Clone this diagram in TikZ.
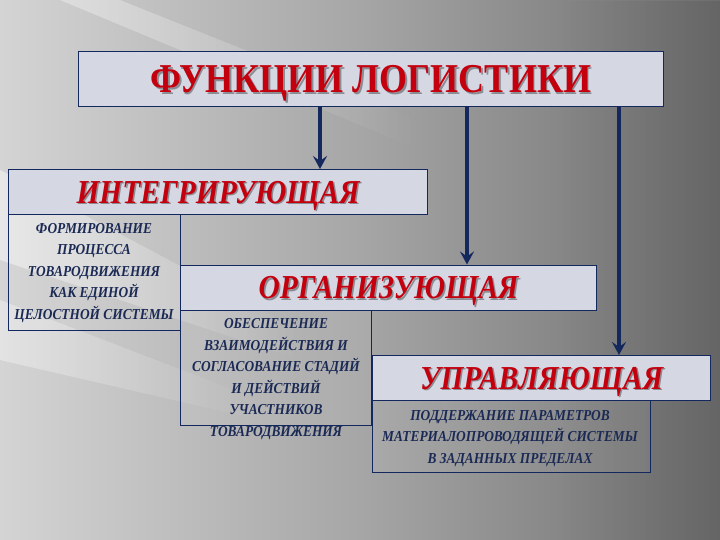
\documentclass[tikz,border=0pt]{standalone}
\usepackage{fontspec}
\setmainfont{Liberation Serif}
\newfontfamily\condfont[FakeStretch=0.88]{Liberation Serif}
\usetikzlibrary{arrows.meta,fadings}
\definecolor{navy}{HTML}{14285E}
\definecolor{hred}{HTML}{C4000E}
\definecolor{hfill}{HTML}{D5D8E3}
\definecolor{subtxt}{HTML}{1B2A55}
\definecolor{bgl}{HTML}{D4D4D4}
\definecolor{bgm}{HTML}{A6A6A6}
\definecolor{bgr}{HTML}{6E6E6E}
\begin{document}
\begin{tikzpicture}[x=1pt,y=-1pt,
  head/.style={draw=navy, line width=1.1pt, fill=hfill, anchor=north west, inner sep=0pt},
  sub/.style={draw=navy, line width=0.9pt, fill=white, fill opacity=0.06, anchor=north west, inner sep=0pt},
  titletxt/.style={text=hred, text depth=0pt, font=\condfont\bfseries\fontsize{41}{41}\selectfont},
  headtxt/.style={text=hred, text depth=0pt, font=\condfont\bfseries\itshape\fontsize{33.5}{33.5}\selectfont},
  shadowtxt/.style={text=black, text opacity=0.35},
  subtxt/.style={text=subtxt, align=center, inner sep=0pt, font=\condfont\bfseries\itshape\fontsize{15.2}{21.5}\selectfont},
  arr/.style={draw=navy, line width=3.4pt, -{Stealth[length=13pt,width=14pt,inset=5pt]}}]
% background
\useasboundingbox (0,0) rectangle (720,540);
\shade[left color=bgl, right color=bgr, middle color=bgm] (0,0) rectangle (720,540);
\fill[white, opacity=0.45, path fading=east] (0,170) -- (300,330) -- (300,360) -- (0,260) -- cycle;
\fill[white, opacity=0.35, path fading=east] (0,300) -- (260,400) -- (260,420) -- (0,360) -- cycle;
\fill[white, opacity=0.35, path fading=east] (120,0) -- (420,120) -- (420,150) -- (60,0) -- cycle;
\fill[black, opacity=0.08, path fading=west] (560,0) rectangle (720,540);
% sub boxes
\node[sub, minimum width=172, minimum height=116] (intsub) at (8,214) {};
\node[sub, minimum width=191, minimum height=115] (orgsub) at (180,310) {};
\node[sub, minimum width=278, minimum height=72] (uprsub) at (372,400) {};
% header boxes
\node[head, minimum width=585, minimum height=55] (title) at (78,51) {};
\node[titletxt, shadowtxt] (titles) at ([shift={(1.5,1.5)}]title.center) {ФУНКЦИИ ЛОГИСТИКИ};
\node[titletxt] (titlet) at (title.center) {ФУНКЦИИ ЛОГИСТИКИ};
\node[head, minimum width=419, minimum height=45] (int) at (8,169) {};
\node[headtxt, shadowtxt] (ints) at ([shift={(1.5,1.5)}]int.center) {ИНТЕГРИРУЮЩАЯ};
\node[headtxt] (intt) at (int.center) {ИНТЕГРИРУЮЩАЯ};
\node[head, minimum width=416, minimum height=45.5] (org) at (180,264.5) {};
\node[headtxt, shadowtxt] (orgs) at ([shift={(1.5,1.5)}]org.center) {ОРГАНИЗУЮЩАЯ};
\node[headtxt] (orgt) at (org.center) {ОРГАНИЗУЮЩАЯ};
\node[head, minimum width=338, minimum height=45] (upr) at (372,355) {};
\node[headtxt, shadowtxt] (uprs) at ([shift={(1.5,1.5)}]upr.center) {УПРАВЛЯЮЩАЯ};
\node[headtxt] (uprt) at (upr.center) {УПРАВЛЯЮЩАЯ};
% sub texts
\node[subtxt] (intst) at (94,273) {ФОРМИРОВАНИЕ\\ПРОЦЕССА\\ТОВАРОДВИЖЕНИЯ\\КАК ЕДИНОЙ\\ЦЕЛОСТНОЙ СИСТЕМЫ};
\node[subtxt] (orgst) at (276,379) {ОБЕСПЕЧЕНИЕ\\ВЗАИМОДЕЙСТВИЯ И\\СОГЛАСОВАНИЕ СТАДИЙ\\И ДЕЙСТВИЙ\\УЧАСТНИКОВ\\ТОВАРОДВИЖЕНИЯ};
\node[subtxt] (uprst) at (510,438.5) {ПОДДЕРЖАНИЕ ПАРАМЕТРОВ\\МАТЕРИАЛОПРОВОДЯЩЕЙ СИСТЕМЫ\\В ЗАДАННЫХ ПРЕДЕЛАХ};
% arrows
\coordinate (c1) at (320,0);
\coordinate (c2) at (467,0);
\coordinate (c3) at (619,0);
\draw[arr] (title.south -| c1) -- (int.north -| c1);
\draw[arr] (title.south -| c2) -- (org.north -| c2);
\draw[arr] (title.south -| c3) -- (upr.north -| c3);
\end{tikzpicture}
\end{document}
